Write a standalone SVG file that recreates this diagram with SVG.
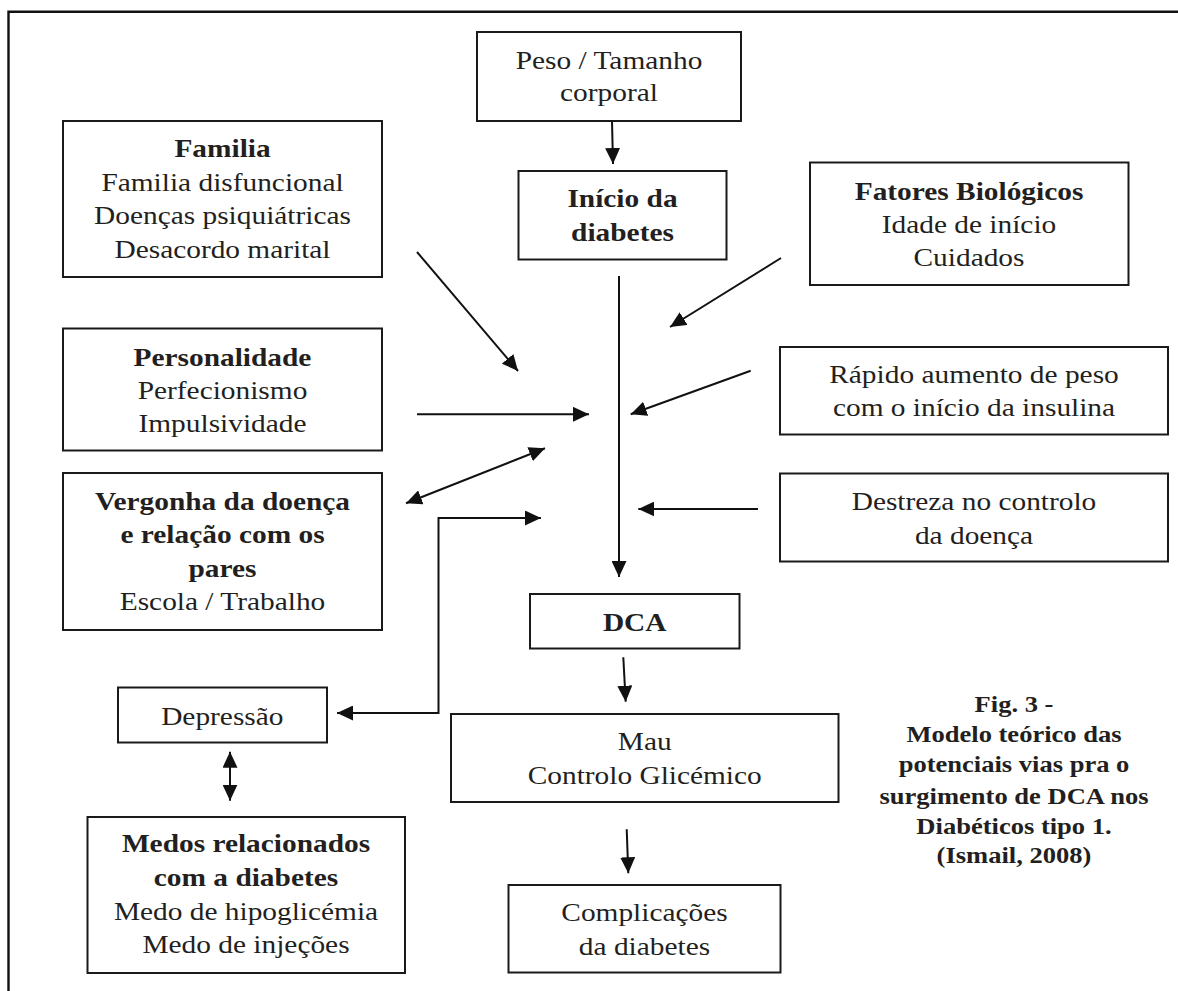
<svg xmlns="http://www.w3.org/2000/svg" width="1178" height="991" viewBox="0 0 1178 991">
<defs>
<marker id="ah" markerUnits="userSpaceOnUse" markerWidth="16" markerHeight="15" refX="16" refY="7.5" orient="auto-start-reverse">
<path d="M0,0 L16,7.5 L0,15 Z" fill="#111"/>
</marker>
<style>
.box{fill:#fff;stroke:#1a1a1a;stroke-width:2}
.t{font-family:"Liberation Serif","Times New Roman",serif;font-size:25px;fill:#231f20;text-anchor:middle}
.b{font-weight:bold}
.cap{font-family:"Liberation Serif","Times New Roman",serif;font-size:22.5px;font-weight:bold;fill:#231f20;text-anchor:middle}
.c{fill:none;stroke:#111;stroke-width:2}
.a{marker-end:url(#ah)}
.d{marker-start:url(#ah);marker-end:url(#ah)}
.frame{fill:none;stroke:#111;stroke-width:2.4}
</style>
</defs>
<rect width="1178" height="991" fill="#fff"/>
<path class="frame" d="M8.5,991 L8.5,11.8 L1178,11.8"/>

<g id="peso"><rect class="box" x="477" y="32" width="264" height="89"/>
<g transform="translate(609,0) scale(1.175,1)"><text class="t" y="69">Peso / Tamanho</text><text class="t" y="101">corporal</text></g></g>

<g id="inicio"><rect class="box" x="518.5" y="171" width="208" height="88.5"/>
<g transform="translate(622.5,0) scale(1.175,1)"><text class="t b" y="207.5">Início da</text><text class="t b" y="241">diabetes</text></g></g>

<g id="familia"><rect class="box" x="63" y="121" width="319" height="156"/>
<g transform="translate(222.5,0) scale(1.175,1)"><text class="t b" y="157">Familia</text><text class="t" y="191">Familia disfuncional</text><text class="t" y="224.5">Doenças psiquiátricas</text><text class="t" y="258">Desacordo marital</text></g></g>

<g id="fatores"><rect class="box" x="810" y="162.5" width="318.5" height="122.5"/>
<g transform="translate(969,0) scale(1.175,1)"><text class="t b" y="200">Fatores Biológicos</text><text class="t" y="233.5">Idade de início</text><text class="t" y="266.5">Cuidados</text></g></g>

<g id="personalidade"><rect class="box" x="63" y="328.5" width="319" height="122"/>
<g transform="translate(222.5,0) scale(1.175,1)"><text class="t b" y="366">Personalidade</text><text class="t" y="399.5">Perfecionismo</text><text class="t" y="432.5">Impulsividade</text></g></g>

<g id="vergonha"><rect class="box" x="63" y="473" width="319" height="157"/>
<g transform="translate(222.5,0) scale(1.175,1)"><text class="t b" y="510">Vergonha da doença</text><text class="t b" y="543.5">e relação com os</text><text class="t b" y="577">pares</text><text class="t" y="610.5">Escola / Trabalho</text></g></g>

<g id="rapido"><rect class="box" x="780" y="347" width="388" height="87.5"/>
<g transform="translate(974,0) scale(1.175,1)"><text class="t" y="383.5">Rápido aumento de peso</text><text class="t" y="416.5">com o início da insulina</text></g></g>

<g id="destreza"><rect class="box" x="780" y="473.5" width="388" height="88"/>
<g transform="translate(974,0) scale(1.175,1)"><text class="t" y="510.5">Destreza no controlo</text><text class="t" y="544">da doença</text></g></g>

<g id="dca"><rect class="box" x="530" y="594" width="209.5" height="54.5"/>
<g transform="translate(634.7,0) scale(1.175,1)"><text class="t b" y="631.5">DCA</text></g></g>

<g id="mau"><rect class="box" x="451" y="714" width="387.5" height="88"/>
<g transform="translate(644.7,0) scale(1.175,1)"><text class="t" y="750">Mau</text><text class="t" y="784">Controlo Glicémico</text></g></g>

<g id="complicacoes"><rect class="box" x="508.5" y="885" width="272" height="87.5"/>
<g transform="translate(644.5,0) scale(1.175,1)"><text class="t" y="921.5">Complicações</text><text class="t" y="955">da diabetes</text></g></g>

<g id="depressao"><rect class="box" x="118" y="687.5" width="209" height="55"/>
<g transform="translate(222.3,0) scale(1.175,1)"><text class="t" y="725">Depressão</text></g></g>

<g id="medos"><rect class="box" x="87.5" y="817" width="317.5" height="156"/>
<g transform="translate(246,0) scale(1.175,1)"><text class="t b" y="852.5">Medos relacionados</text><text class="t b" y="886.5">com a diabetes</text><text class="t" y="920">Medo de hipoglicémia</text><text class="t" y="953.5">Medo de injeções</text></g></g>

<g id="caption" transform="translate(1014,0) scale(1.18,1)">
<text class="cap" y="712.5">Fig. 3 -</text>
<text class="cap" y="742.5">Modelo teórico das</text>
<text class="cap" y="772.5">potenciais vias pra o</text>
<text class="cap" y="804.5">surgimento de DCA nos</text>
<text class="cap" y="834.5">Diabéticos tipo 1.</text>
<text class="cap" y="863.5">(Ismail, 2008)</text>
</g>

<g id="connectors">
<path class="c a" d="M612,121 L613,164"/>
<path class="c a" d="M417,252 L518,371"/>
<path class="c a" d="M781,258 L670,327"/>
<path class="c a" d="M619,276 L619,577"/>
<path class="c a" d="M417,414.3 L589,414.3"/>
<path class="c a" d="M750.7,370.7 L630.7,414.3"/>
<path class="c d" d="M406,503.3 L545,448.3"/>
<path class="c d" d="M337,713 L438.5,713 L438.5,518 L541,518"/>
<path class="c a" d="M758,509 L638.3,509"/>
<path class="c a" d="M623.3,657.3 L625.7,701.7"/>
<path class="c a" d="M626.7,829.3 L628.3,873.3"/>
<path class="c d" d="M230,751.7 L230,800.7"/>
</g>
</svg>
